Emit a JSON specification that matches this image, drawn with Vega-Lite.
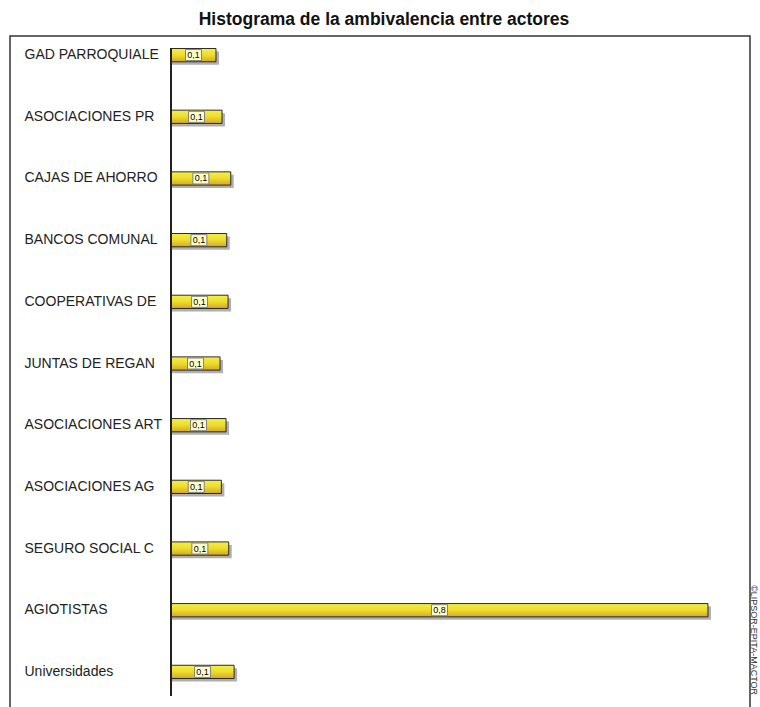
{
  "$schema": "https://vega.github.io/schema/vega-lite/v6.json",
  "autosize": "none",
  "width": 740,
  "height": 680,
  "padding": {"left": 10, "top": 36, "right": 10, "bottom": 0},
  "background": "white",
  "config": {
    "view": {"stroke": "#333", "strokeWidth": 1.5},
    "locale": {"number": {"decimal": ",", "thousands": ".", "grouping": [3], "currency": ["", " €"]}}
  },
  "title": {
    "text": "Histograma de la ambivalencia entre actores",
    "font": "Liberation Sans",
    "fontSize": 17.5,
    "fontWeight": "bold",
    "color": "#111",
    "anchor": "middle",
    "offset": 8,
    "dx": 4
  },
  "data": {
    "values": [
      {"actor": "GAD PARROQUIALE", "v": 0.067},
      {"actor": "ASOCIACIONES PR", "v": 0.076},
      {"actor": "CAJAS DE AHORRO", "v": 0.089},
      {"actor": "BANCOS COMUNAL", "v": 0.083},
      {"actor": "COOPERATIVAS DE", "v": 0.085},
      {"actor": "JUNTAS DE REGAN", "v": 0.073},
      {"actor": "ASOCIACIONES ART", "v": 0.082},
      {"actor": "ASOCIACIONES AG", "v": 0.075},
      {"actor": "SEGURO  SOCIAL C", "v": 0.086},
      {"actor": "AGIOTISTAS", "v": 0.8},
      {"actor": "Universidades", "v": 0.094}
    ]
  },
  "transform": [{"calculate": "datum.v / 2", "as": "mid"}],
  "encoding": {
    "y": {
      "field": "actor",
      "type": "nominal",
      "sort": null,
      "scale": {"paddingInner": 0.785, "paddingOuter": 0.405, "align": 0.25},
      "axis": {
        "orient": "left",
        "offset": -161,
        "domain": false,
        "ticks": false,
        "tickSize": 0,
        "grid": false,
        "title": null,
        "labelAlign": "left",
        "labelPadding": 147,
        "labelFont": "Liberation Sans",
        "labelFontSize": 14,
        "labelColor": "#222",
        "labelLimit": 200
      }
    }
  },
  "layer": [
    {
      "mark": {"type": "bar", "color": "#7a7a7a", "opacity": 0.6, "xOffset": 3, "yOffset": 3},
      "encoding": {
        "x": {"field": "v", "type": "quantitative", "scale": {"domain": [-0.2399, 0.8626], "nice": false, "zero": false}, "axis": null},
        "x2": {"datum": 0}
      }
    },
    {
      "mark": {
        "type": "bar",
        "stroke": "#2a2a2a",
        "strokeWidth": 1,
        "color": {
          "gradient": "linear",
          "x1": 0, "y1": 0, "x2": 0, "y2": 1,
          "stops": [
            {"offset": 0, "color": "#f6ef48"},
            {"offset": 0.5, "color": "#ecdc2c"},
            {"offset": 1, "color": "#d4a72a"}
          ]
        }
      },
      "encoding": {
        "x": {"field": "v", "type": "quantitative", "scale": {"domain": [-0.2399, 0.8626], "nice": false, "zero": false}, "axis": null},
        "x2": {"datum": 0}
      }
    },
    {
      "mark": {"type": "rule", "color": "#222", "strokeWidth": 1.2},
      "encoding": {
        "x": {"datum": 0, "type": "quantitative", "scale": {"domain": [-0.2399, 0.8626], "nice": false, "zero": false}, "axis": null},
        "y": {"datum": "GAD PARROQUIALE", "type": "nominal", "bandPosition": 0},
        "y2": {"datum": "Universidades", "bandPosition": 2.3}
      }
    },
    {
      "mark": {
        "type": "point",
        "shape": "M-1,-0.69H1V0.69H-1Z",
        "size": 256,
        "filled": true,
        "fill": "#ffffcc",
        "stroke": "#808080",
        "strokeWidth": 1,
        "opacity": 1
      },
      "encoding": {
        "x": {"field": "mid", "type": "quantitative", "scale": {"domain": [-0.2399, 0.8626], "nice": false, "zero": false}, "axis": null}
      }
    },
    {
      "mark": {"type": "text", "font": "Liberation Sans", "fontSize": 9, "color": "#000", "align": "center", "baseline": "middle"},
      "encoding": {
        "x": {"field": "mid", "type": "quantitative", "scale": {"domain": [-0.2399, 0.8626], "nice": false, "zero": false}, "axis": null},
        "text": {"field": "v", "type": "quantitative", "format": ".1f"}
      }
    },
    {
      "data": {"values": [{"t": "©LIPSOR-EPITA-MACTOR"}]},
      "mark": {"type": "text", "font": "Liberation Sans", "fontSize": 9, "color": "#333", "angle": 90, "align": "left", "baseline": "middle", "dx": -25},
      "encoding": {
        "x": {"datum": 0.868, "type": "quantitative", "scale": {"domain": [-0.2399, 0.8626], "nice": false, "zero": false}, "axis": null},
        "y": {"datum": "AGIOTISTAS", "type": "nominal"},
        "text": {"field": "t", "type": "nominal"}
      }
    }
  ]
}
